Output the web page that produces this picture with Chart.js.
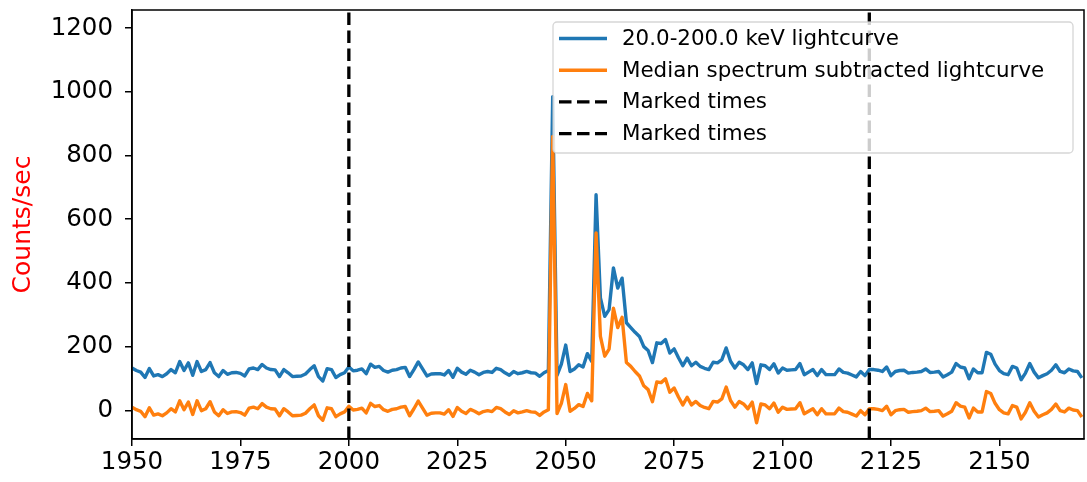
<!DOCTYPE html>
<html>
<head>
<meta charset="utf-8">
<script src="https://cdn.jsdelivr.net/npm/chart.js@4/dist/chart.umd.min.js"></script>
<style>
  html, body { margin: 0; padding: 0; background: #fff; }
  #wrap { width: 1087px; height: 482px; }
</style>
</head>
<body>
<div id="wrap"><canvas id="lc" width="1087" height="482"></canvas></div>
<script>
// time bins (s), one per second starting at tStart
const tStart = 1950;
const binSec = 1;

// 20.0-200.0 keV lightcurve (counts/sec), 1950..2169
const rawCounts = [
  133,125,120,103,131,108,112,106,115,128,
  118,153,125,149,110,153,122,128,150,118,
  106,125,113,118,119,116,108,130,133,128,
  144,133,128,127,106,128,118,106,107,108,
  114,128,140,106,92,131,128,103,112,118,
  136,124,126,130,115,145,135,138,125,120,
  126,128,133,135,106,128,152,130,108,114,
  115,115,111,125,104,132,120,113,126,120,
  112,119,122,119,132,128,118,110,122,115,
  118,122,118,117,107,118,125,985,110,145,
  205,122,130,143,136,178,154,677,353,295,
  316,447,384,415,275,260,245,232,200,188,
  150,212,210,222,180,193,165,140,164,140,
  151,138,132,128,151,149,159,196,154,133,
  151,143,128,149,84,143,140,128,146,117,
  133,126,127,128,147,112,120,128,109,128,
  112,112,112,130,119,117,111,105,122,109,
  128,128,126,122,136,109,122,125,126,117,
  119,120,122,130,119,120,122,105,112,120,
  147,136,133,99,130,118,118,182,176,145,
  125,115,112,138,133,96,117,147,120,102,
  109,115,126,143,122,118,130,124,122,102
];

// median spectrum subtracted lightcurve
const subCounts = [
  10,2,-3,-20,8,-15,-11,-17,-8,5,
  -5,30,2,26,-13,30,-1,5,27,-5,
  -17,2,-10,-5,-4,-7,-15,7,10,5,
  21,10,5,4,-17,5,-5,-17,-16,-15,
  -9,5,17,-17,-31,8,5,-20,-11,-5,
  13,1,3,7,-8,22,12,15,2,-3,
  3,5,10,12,-17,5,29,7,-15,-9,
  -8,-8,-12,2,-19,9,-3,-10,3,-3,
  -11,-4,-1,-4,9,5,-5,-13,-1,-8,
  -5,-1,-5,-6,-16,-5,2,860,-10,22,
  81,-3,6,18,12,53,30,557,232,170,
  192,321,260,292,150,138,122,108,77,65,
  27,89,87,99,57,70,42,17,41,17,
  28,15,9,5,28,26,36,73,31,10,
  28,20,5,26,-39,20,17,5,23,-6,
  10,3,4,5,24,-11,-3,5,-14,5,
  -11,-11,-11,7,-4,-6,-12,-18,-1,-14,
  5,5,3,-1,13,-14,-1,2,3,-6,
  -4,-3,-1,7,-4,-3,-1,-18,-11,-3,
  24,13,10,-24,7,-5,-5,59,53,22,
  2,-8,-11,15,10,-27,-6,24,-3,-21,
  -14,-8,3,20,-1,-5,7,1,-1,-21
];

const markedTimes = [2000, 2120];
const seriesLabels = ['20.0-200.0 keV lightcurve', 'Median spectrum subtracted lightcurve'];
const xMin = 1950, xMax = 2169.5;
const yMin = -90, yMax = 1257;

const toPoints = vals => vals.map((v, i) => ({ x: tStart + i * binSec, y: v }));

Chart.defaults.font.family = '"DejaVu Sans", "Liberation Sans", sans-serif';
Chart.defaults.color = '#000';

// black box around the axes, like matplotlib spines
const frame = {
  id: 'frame',
  afterDatasetsDraw(chart) {
    const { ctx, chartArea: a } = chart;
    ctx.save();
    ctx.strokeStyle = '#000';
    ctx.lineWidth = 1.5;
    ctx.strokeRect(a.left, a.top, a.right - a.left, a.bottom - a.top);
    ctx.restore();
  }
};

// legend box in the upper right corner, semi transparent
const legendBox = {
  id: 'legendBox',
  afterDraw(chart) {
    const { ctx, chartArea: a } = chart;
    const x0 = a.left + 421, y0 = a.top + 12, w = 520, h = 131;
    ctx.save();
    ctx.beginPath();
    ctx.roundRect(x0, y0, w, h, 4);
    ctx.fillStyle = 'rgba(255,255,255,0.8)';
    ctx.fill();
    ctx.strokeStyle = 'rgba(204,204,204,0.8)';
    ctx.lineWidth = 1.3;
    ctx.stroke();

    ctx.font = '21.4px "DejaVu Sans"';
    ctx.textBaseline = 'middle';
    chart.data.datasets.forEach((ds, i) => {
      const y = y0 + 16.5 + i * 31.7;
      ctx.beginPath();
      ctx.setLineDash(ds.borderDash || []);
      ctx.strokeStyle = ds.borderColor;
      ctx.lineWidth = ds.borderWidth;
      ctx.moveTo(x0 + 6, y);
      ctx.lineTo(x0 + 54, y);
      ctx.stroke();
      ctx.setLineDash([]);
      ctx.fillStyle = '#000';
      ctx.fillText(ds.label, x0 + 69, y + 1);
    });
    ctx.restore();
  }
};

new Chart(document.getElementById('lc'), {
  type: 'line',
  data: {
    datasets: [
      {
        label: seriesLabels[0],
        data: toPoints(rawCounts),
        borderColor: '#1f77b4',
        borderWidth: 3.4,
        borderJoinStyle: 'round',
        pointRadius: 0,
        order: 3
      },
      {
        label: seriesLabels[1],
        data: toPoints(subCounts),
        borderColor: '#ff7f0e',
        borderWidth: 3.4,
        borderJoinStyle: 'round',
        pointRadius: 0,
        order: 2
      },
      ...markedTimes.map(t => ({
        label: 'Marked times',
        data: [{ x: t, y: yMin }, { x: t, y: yMax }],
        borderColor: '#000',
        borderWidth: 3.3,
        borderDash: [12.5, 5.5],
        pointRadius: 0,
        order: 1
      }))
    ]
  },
  options: {
    responsive: false,
    animation: false,
    layout: { padding: { top: 10, right: 3, left: 0, bottom: 0 } },
    plugins: {
      legend: { display: false },
      tooltip: { enabled: false }
    },
    scales: {
      x: {
        type: 'linear',
        min: xMin,
        max: xMax,
        afterFit: s => { s.height = 43; s.paddingLeft = 0; s.paddingRight = 0; },
        grid: { drawOnChartArea: false, drawTicks: true, tickLength: 7, color: '#000', lineWidth: 1.5 },
        border: { display: true, color: '#000', width: 1.5 },
        ticks: {
          stepSize: 25,
          includeBounds: false,
          maxRotation: 0,
          padding: 2,
          color: '#000',
          font: { size: 24.5 },
          callback: v => String(v)
        }
      },
      y: {
        min: yMin,
        max: yMax,
        afterFit: s => { s.width = 132; s.paddingTop = 0; s.paddingBottom = 0; },
        grid: { drawOnChartArea: false, drawTicks: true, tickLength: 7, color: '#000', lineWidth: 1.5 },
        border: { display: true, color: '#000', width: 1.5 },
        title: {
          display: true,
          text: 'Counts/sec',
          color: 'red',
          font: { size: 25 },
          padding: { top: 8, bottom: 0 }
        },
        ticks: {
          stepSize: 200,
          includeBounds: false,
          padding: 12,
          color: '#000',
          font: { size: 24.5 },
          callback: v => String(v)
        }
      }
    }
  },
  plugins: [frame, legendBox]
});
</script>
</body>
</html>
